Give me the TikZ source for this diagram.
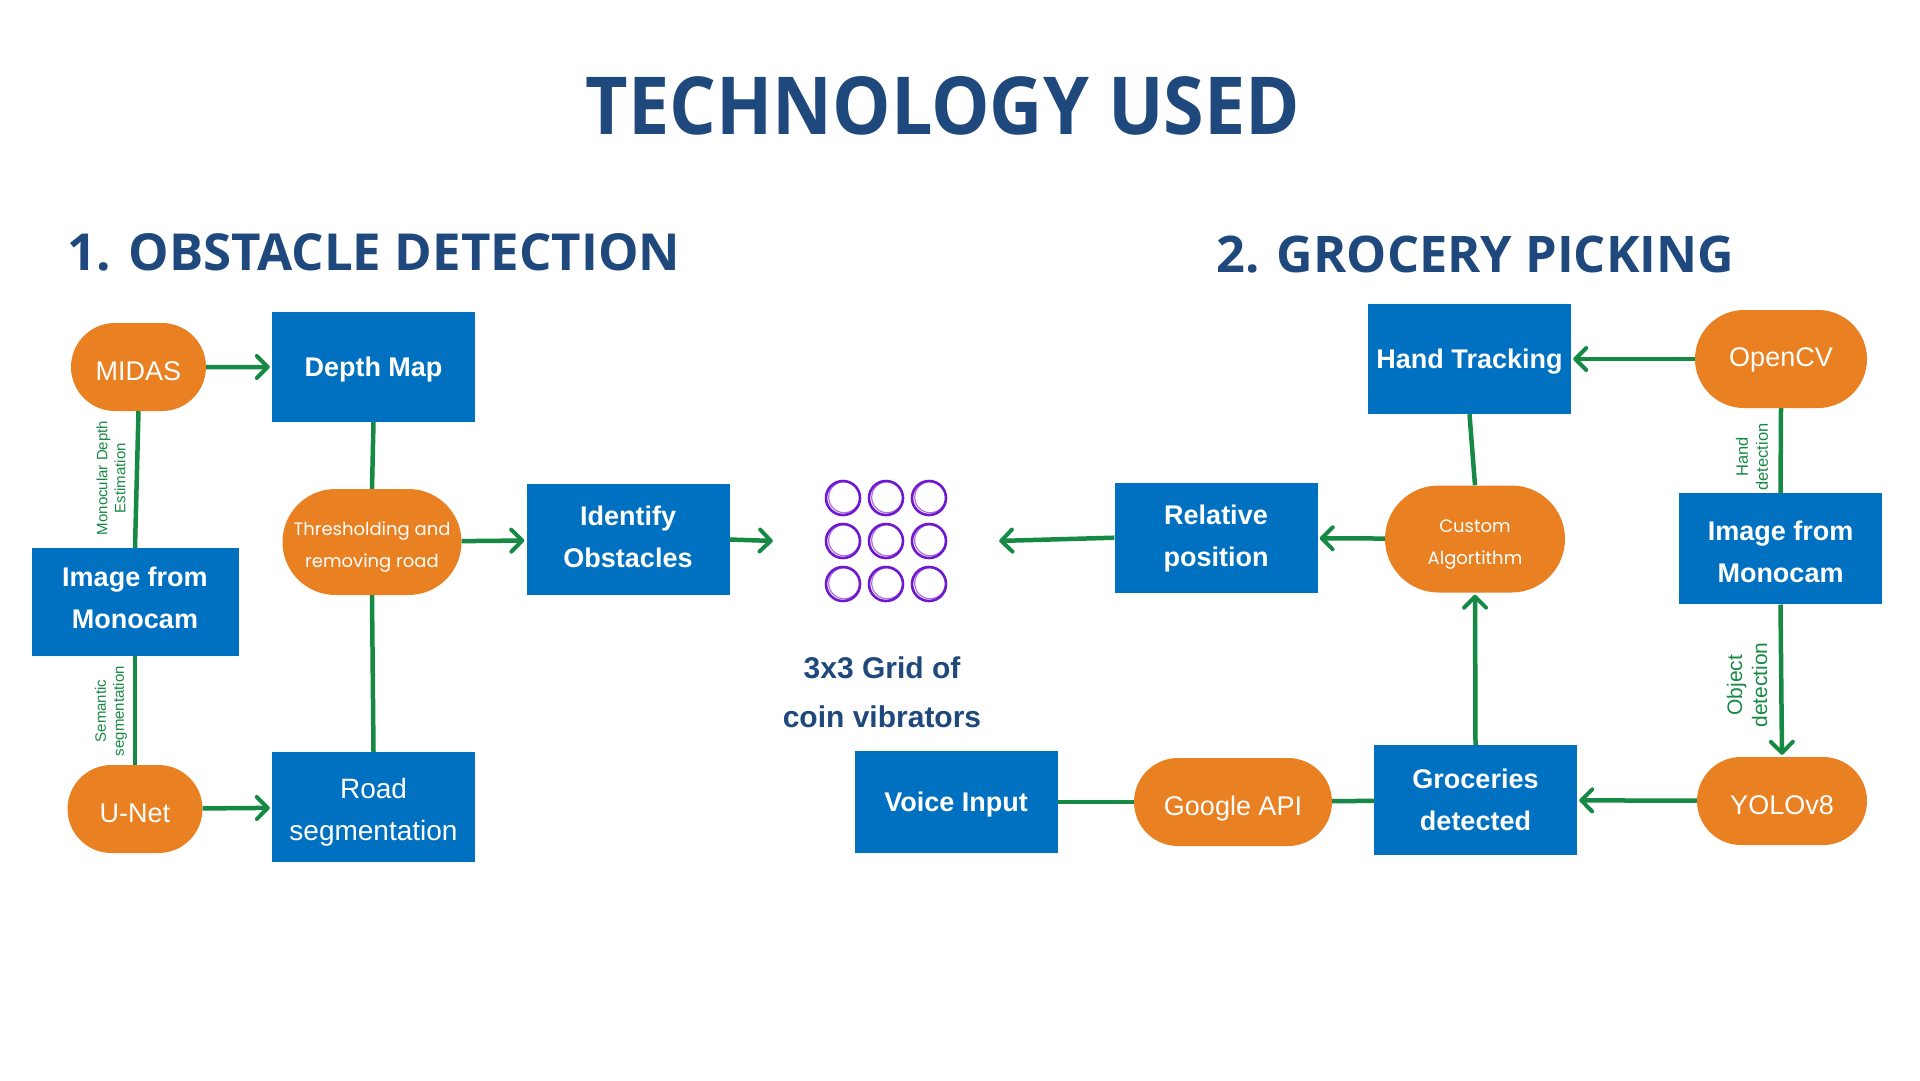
\documentclass[tikz,border=0pt]{standalone}
\usepackage{fontspec}
\setmainfont{Liberation Sans}
\newfontfamily\headfont{Open Sans}
\newfontfamily\titlefont{Open Sans}[FakeStretch=0.92]
\newfontfamily\popfont{Poppins}
\usetikzlibrary{arrows.meta,shapes.misc}
\definecolor{boxblue}{RGB}{0,112,192}
\definecolor{orng}{RGB}{233,128,34}
\definecolor{grn}{RGB}{22,138,68}
\definecolor{titleblue}{RGB}{31,73,125}
\definecolor{purp}{RGB}{112,24,208}
\begin{document}
\begin{tikzpicture}[x=1pt,y=-1pt,
  bbox/.style={rectangle, fill=boxblue, text=white, minimum width=203pt, minimum height=110pt, inner sep=0pt, align=center, font=\fontsize{27}{42}\selectfont\bfseries},
  oneline/.style={text height=19.4pt, text depth=0pt},
  twoline/.style={text height=#1, text depth=0pt},
  obox/.style={rounded rectangle, fill=orng, text=white, inner sep=0pt, align=center, font=\fontsize{27}{33}\selectfont, text height=26.8pt, text depth=0pt},
  pbox/.style={obox, font=\popfont\fontsize{18}{32}\selectfont, text height=51pt, text depth=0pt},
  conn/.style={draw=grn, line width=4.5pt},
  arr/.style={conn, -{Straight Barb[length=11pt,width=22pt,line width=4pt,round]}, shorten >=2pt},
  lbl/.style={text=grn, rotate=90, align=center, inner sep=0pt},
  hd/.style={font=\headfont\bfseries\fontsize{51}{51}\selectfont, text=titleblue, inner sep=0pt},
  coin/.style={draw=purp, line width=2.6pt},
  coinb/.style={draw=purp, line width=1.2pt, opacity=0.6}
]
\fill[white] (0,0) rectangle (1920,1080);
\useasboundingbox (0,0) rectangle (1920,1080);

% title
\node[font=\titlefont\bfseries\fontsize{80}{80}\selectfont, text=titleblue] (title) at (943,106) {TECHNOLOGY USED};

\node[hd, anchor=west] (h1) at (67,252) {1. OBSTACLE DETECTION};
\node[hd, anchor=west, font=\headfont\bfseries\fontsize{50.5}{50.5}\selectfont] (h2) at (1216,255) {2. GROCERY PICKING};

% left part
\node[obox, minimum width=135pt, minimum height=88pt] (midas) at (138.5,367) {MIDAS};
\node[bbox, oneline] (depth) at (373.5,367) {Depth Map};
\node[bbox, twoline=52.2pt, minimum width=207pt, minimum height=108pt] (imgL) at (135,602) {Image from\\Monocam};
\node[obox, minimum width=135pt, minimum height=88pt] (unet) at (135,809) {U-Net};
\node[bbox, twoline=67.4pt, font=\fontsize{28}{42}\selectfont] (road) at (373.5,807) {Road\\segmentation};
\node[pbox, minimum width=179pt, minimum height=106pt] (thresh) at (372,542) {Thresholding and\\removing road};
\node[bbox, twoline=56.4pt, minimum height=111pt] (ident) at (628,539.5) {Identify\\Obstacles};

% grid of coin vibrators
\node[minimum width=222pt, minimum height=130pt, inner sep=0pt] (grid) at (886,541) {};
\foreach \i in {-1,0,1}{
  \foreach \j in {-1,0,1}{
    \draw[coin] ([shift={(\i*43,\j*43)}]grid.center) circle (17);
    \draw[coinb] ([shift={(\i*43+1.2,\j*43-0.8)}]grid.center) circle (15.5);
  }
}
\node[text=titleblue, font=\fontsize{30}{49}\selectfont\bfseries, align=center] (gridlbl) at (882,692) {3x3 Grid of\\coin vibrators};

% right part
\node[bbox, oneline] (hand) at (1469.5,359) {Hand Tracking};
\node[obox, minimum width=172pt, minimum height=98pt, text height=14.4pt] (opencv) at (1781,359) {OpenCV};
\node[bbox, twoline=67.8pt, minimum height=111pt] (imgR) at (1780.5,548.8) {Image from\\Monocam};
\node[obox, minimum width=170pt, minimum height=88pt] (yolo) at (1782,801) {YOLOv8};
\node[bbox, twoline=60pt] (groc) at (1475.5,800) {Groceries\\detected};
\node[obox, minimum width=198pt, minimum height=88pt] (google) at (1233,802) {Google API};
\node[bbox, oneline, minimum height=102pt] (voice) at (956,802) {Voice Input};
\node[pbox, minimum width=180pt, minimum height=107pt] (custom) at (1475,539) {Custom\\Algortithm};
\node[bbox, twoline=57.2pt] (rel) at (1216,537.7) {Relative\\position};

% connectors left
\draw[arr] (midas) -- (depth);
\draw[conn] (midas.south) -- (imgL.north);
\draw[conn] (imgL.south) -- (unet.north);
\draw[arr] (unet) -- (road);
\draw[conn] (depth.south) -- (thresh.north);
\draw[conn] (thresh.south) -- (road.north);
\draw[arr] (thresh) -- (ident);
\draw[arr] (ident.east) -- (grid.west);

% connectors right
\draw[arr] (opencv) -- (hand);
\draw[conn] (opencv.south) -- (imgR.north);
\draw[arr] (imgR.south) -- (yolo.north);
\draw[arr] (yolo) -- (groc);
\draw[arr] (groc.north) -- (custom.south);
\draw[conn] (hand.south) -- (custom.north);
\draw[arr] (custom) -- (rel);
\draw[arr] (rel.west) -- (grid.east);
\draw[conn] (voice) -- (google);
\draw[conn] (google) -- (groc);

% connector labels
\node[lbl, font=\fontsize{15}{18}\selectfont] (l1) at (111,478) {Monocular Depth\\Estimation};
\node[lbl, font=\fontsize{15}{18}\selectfont] (l2) at (111,711) {Semantic\\segmentation};
\node[lbl, font=\fontsize{16.5}{20}\selectfont] (l3) at (1752,457) {Hand\\detection};
\node[lbl, font=\fontsize{21}{25}\selectfont] (l4) at (1747,685) {Object\\detection};
\end{tikzpicture}
\end{document}
